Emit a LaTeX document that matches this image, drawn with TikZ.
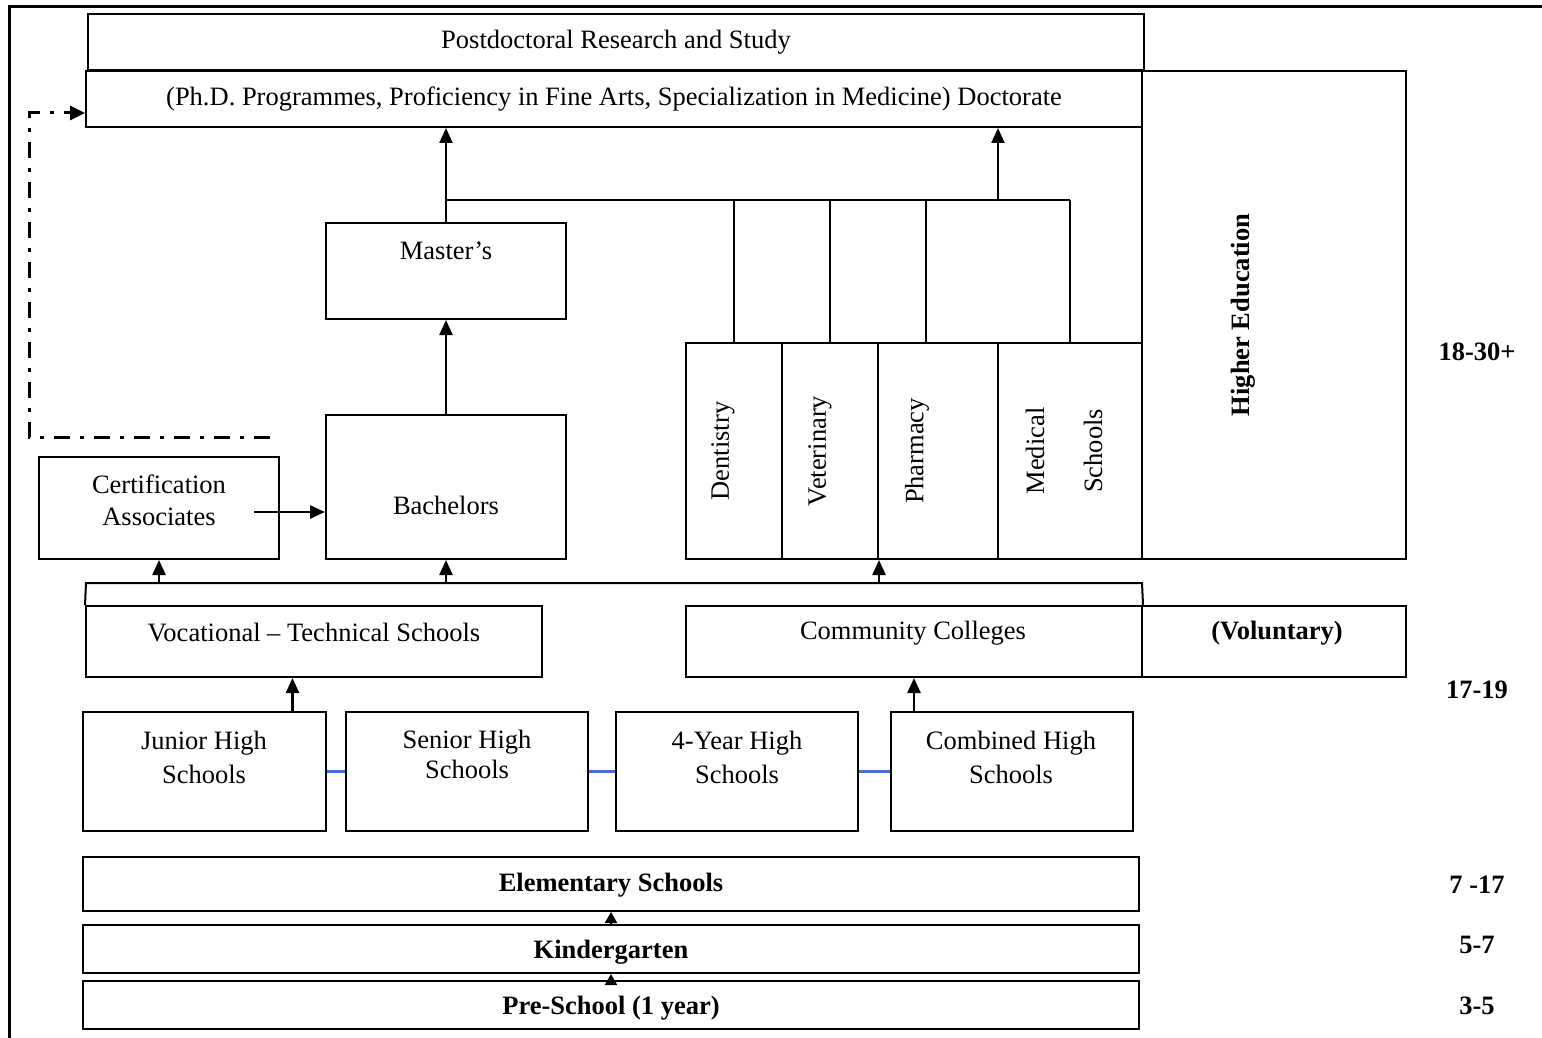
\documentclass[tikz,border=0pt]{standalone}
\usepackage{fontspec}
\setmainfont{Liberation Serif}
\usetikzlibrary{arrows.meta}
\definecolor{linkblue}{RGB}{68,114,196}
\begin{document}
\begin{tikzpicture}[x=1pt,y=-1pt,
  fnt/.style={font=\fontsize{26.5}{34}\selectfont},
  box/.style 2 args={draw, line width=2pt, minimum width=#1pt, minimum height=#2pt,
    inner sep=0pt, fnt},
  txt/.style={fnt, inner sep=0pt, align=center},
  btxt/.style={txt, font=\fontsize{26.5}{34}\selectfont\bfseries},
  ln/.style={line width=2pt},
  arr/.style={line width=2.4pt, -{Triangle[length=15pt,width=13pt]}},
  arrs/.style={line width=2pt, -{Triangle[length=11pt,width=12pt]}},
  dd/.style={line width=3pt, dash pattern=on 16pt off 10pt on 4pt off 10pt,
    -{Triangle[length=15pt,width=14pt]}},
  blueln/.style={draw=linkblue, line width=2.4pt}]

\useasboundingbox (0,0) rectangle (1542,1038);
\fill[white] (0,0) rectangle (1542,1038);

% outer frame
\draw[line width=3pt] (1542,7) -- (9,7) -- (9,1038);

% ---- higher education ----
\node[box={1056}{56}] (post) at (616,42) {Postdoctoral Research and Study};
\node[box={1056}{56}] (doc) at (614,99)
  {(Ph.D. Programmes, Proficiency in Fine Arts, Specialization in Medicine) Doctorate};
\node[box={264}{488}] (high) at (1274,315) {};
\node[btxt, rotate=90] (highT) at (1243,315) {Higher Education};

\node[box={240}{96}] (mast) at (446,271) {};
\node[txt] (mastT) at (446,251) {Master's};
\node[box={240}{144}] (bach) at (446,487) {};
\node[txt] (bachT) at (446,505) {Bachelors};
\node[box={240}{102}] (cert) at (159,508) {};
\node[txt] (certT) at (159,500) {Certification\\[-2pt]Associates};

\node[box={96}{216}] (dent) at (734,451) {};
\node[box={96}{216}] (vet) at (830,451) {};
\node[box={120}{216}] (pharm) at (938,451) {};
\node[box={144}{216}] (med) at (1070,451) {};
\node[txt, rotate=90] (dentT) at (723,451) {Dentistry};
\node[txt, rotate=90] (vetT) at (820,451) {Veterinary};
\node[txt, rotate=90] (pharmT) at (917,451) {Pharmacy};
\node[txt, rotate=90] (medT) at (1035,451) {Medical};
\node[txt, rotate=90] (schT) at (1093,451) {Schools};

% branches joining the professional schools and the master's route
\coordinate (hubL) at (446,200);
\coordinate (hubR) at (1070,200);
\coordinate (hubA) at (998,200);
\draw[ln] (hubL) -- (hubR);
\draw[ln] (dent.north) -- (dent.north |- hubL);
\draw[ln] (vet.north) -- (vet.north |- hubL);
\draw[ln] ([xshift=-12pt]pharm.north) -- ([xshift=-12pt]pharm.north |- hubL);
\draw[ln] (med.north) -- (med.north |- hubL);
\draw[arr] (hubA) -- (hubA |- doc.south);
\draw[arr] (mast.north) -- (mast.north |- doc.south);
\draw[arr] (bach.north) -- (mast.south);

\coordinate (certOut) at (254,512);
\draw[arr] (certOut) -- (certOut -| bach.west);

% dash-dot route from associates to doctorate
\coordinate (dA) at (270,437);
\coordinate (dB) at (29,437);
\coordinate (dC) at (29,113);
\draw[dd] (dA) -- (dB) -- (dC) -- (dC -| doc.west);

% ---- secondary and post-secondary ----
\node[box={456}{71}] (voc) at (314,641.5) {};
\node[txt] (vocT) at (314,633) {Vocational -- Technical Schools};
\node[box={456}{71}] (comm) at (914,641.5) {};
\node[txt] (commT) at (913,633) {Community Colleges};
\node[box={264}{71}] (vol) at (1274,641.5) {};
\node[btxt] (volT) at (1277,633) {(Voluntary)};

\coordinate (brL) at (86,583);
\coordinate (brR) at (1142,583);
\draw[ln] (voc.north west) -- (brL) -- (brR) -- (comm.north east);
\draw[arr] (cert.south |- brL) -- (cert.south);
\draw[arr] (bach.south |- brL) -- (bach.south);
\draw[arr] (vet.south east |- brL) -- (vet.south east);

\node[box={243}{119}] (jun) at (204.5,771.5) {};
\node[box={242}{119}] (sen) at (467,771.5) {};
\node[box={242}{119}] (four) at (737,771.5) {};
\node[box={242}{119}] (comb) at (1012,771.5) {};
\node[txt] (junT) at (204,757) {Junior High\\Schools};
\node[txt] (senT) at (467,754) {Senior High\\[-4pt]Schools};
\node[txt] (fourT) at (737,757) {4-Year High\\Schools};
\node[txt] (combT) at (1011,757) {Combined High\\Schools};

\draw[blueln] (jun.east) -- (sen.west);
\draw[blueln] (sen.east) -- (four.west);
\draw[blueln] (four.east) -- (comb.west);

\draw[arr] ([xshift=88pt]jun.north) -- ([xshift=88pt]jun.north |- voc.south);
\draw[arr] (comb.north -| comm.south) -- (comm.south);

% ---- compulsory and pre-school ----
\node[box={1056}{54}] (elem) at (611,884) {};
\node[btxt] (elemT) at (611,885) {Elementary Schools};
\node[box={1056}{48}] (kind) at (611,949) {};
\node[btxt] (kindT) at (611,952) {Kindergarten};
\node[box={1056}{48}] (pre) at (611,1005) {};
\node[btxt] (preT) at (611,1008) {Pre-School (1 year)};
\draw[arrs] (kind.north) -- (elem.south);
\draw[arrs] (pre.north) -- (kind.south);

% ---- age ranges ----
\node[btxt] (age1) at (1477,352) {18-30+};
\node[btxt] (age2) at (1477,690) {17-19};
\node[btxt] (age3) at (1477,885) {7 -17};
\node[btxt] (age4) at (1477,945) {5-7};
\node[btxt] (age5) at (1477,1006) {3-5};

\end{tikzpicture}
\end{document}
